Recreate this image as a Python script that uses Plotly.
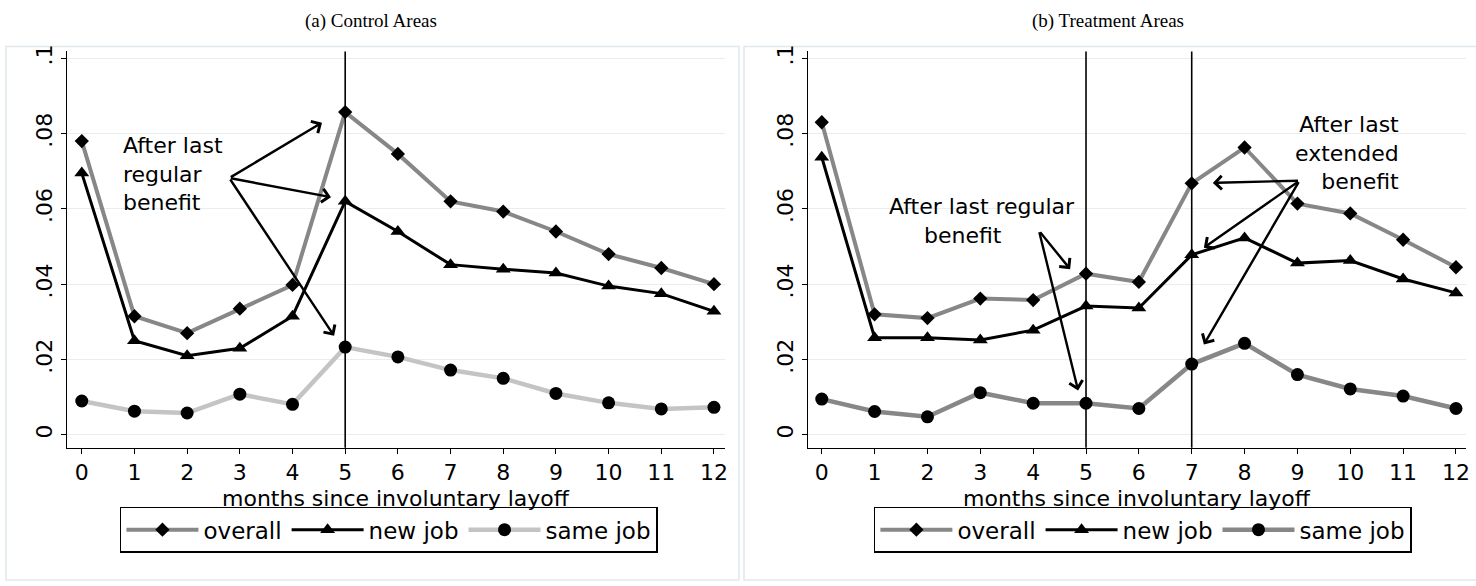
import plotly.graph_objects as go

# ---------------- data ----------------
months = list(range(13))
month_ticks = [str(m) for m in months]
y_tick_vals = [0, 0.02, 0.04, 0.06, 0.08, 0.1]
y_tick_text = ["0", ".02", ".04", ".06", ".08", ".1"]

series_names = ["overall", "new job", "same job"]

ctrl_overall = [0.078, 0.0315, 0.027, 0.0335, 0.0398, 0.0857, 0.0746, 0.062, 0.0593, 0.054, 0.048, 0.0443, 0.040]
ctrl_newjob = [0.0695, 0.025, 0.021, 0.023, 0.0315, 0.062, 0.054, 0.0452, 0.044, 0.043, 0.0395, 0.0375, 0.0328]
ctrl_samejob = [0.009, 0.0063, 0.0058, 0.0108, 0.0081, 0.0233, 0.0207, 0.0172, 0.015, 0.011, 0.0085, 0.0069, 0.0073]

treat_overall = [0.083, 0.032, 0.031, 0.0362, 0.0358, 0.0428, 0.0406, 0.0668, 0.0763, 0.0614, 0.0588, 0.0518, 0.0445]
treat_newjob = [0.0737, 0.0258, 0.0258, 0.0252, 0.0278, 0.0342, 0.0337, 0.0478, 0.0523, 0.0456, 0.0463, 0.0414, 0.0377]
treat_samejob = [0.0095, 0.0062, 0.0048, 0.0112, 0.0084, 0.0084, 0.007, 0.0188, 0.0243, 0.016, 0.0122, 0.0103, 0.007]

ctrl_benefit_lines = [5]
treat_benefit_lines = [5, 7]

title_ctrl = "(a) Control Areas"
title_treat = "(b) Treatment Areas"
x_title = "months since involuntary layoff"

note_ctrl = "After last<br>regular<br>benefit"
note_treat_regular = "After last regular<br>" + "&nbsp;" * 5 + "benefit"
note_treat_extended = "After last<br>extended<br>benefit"

# ---------------- styles ----------------
W, H = 1476, 586
FONT = "DejaVu Sans"
GRAY = "#878787"
LIGHT = "#c4c4c4"
GRID = "#e6eef0"
FRAME = "#dfe8ec"

def px_x(p):
    return p / W

def px_y(p):
    return (H - p) / H

y_range = [-0.0034, 0.1018]
x_range_left = [-0.284, 12.21]
x_range_right = [-0.264, 12.19]
y_dom = [px_y(446), px_y(45)]
x_dom_left = [px_x(67), px_x(727)]
x_dom_right = [px_x(810), px_x(1470)]

fig = go.Figure()

def add_panel(xa, ya, overall, newjob, samejob, same_color, legend_id):
    styles = [
        (overall, GRAY, 4, "diamond", 11),
        (newjob, "black", 3, "triangle-up", 13),
        (samejob, same_color, 4.5, "circle", 13),
    ]
    for name, (vals, col, lw, sym, ms) in zip(series_names, styles):
        fig.add_trace(go.Scatter(
            x=months, y=vals, mode="lines+markers", name=name,
            xaxis=xa, yaxis=ya, legend=legend_id,
            line=dict(color=col, width=lw),
            marker=dict(symbol=sym, size=ms, color="black", line=dict(width=0)),
        ))

add_panel("x", "y", ctrl_overall, ctrl_newjob, ctrl_samejob, LIGHT, "legend")
add_panel("x2", "y2", treat_overall, treat_newjob, treat_samejob, GRAY, "legend2")

axis_x = dict(tickmode="array", tickvals=months, ticktext=month_ticks,
              showline=True, linecolor="black", linewidth=1.3, ticks="outside",
              ticklen=5, tickwidth=1.3, tickcolor="black", showgrid=False, zeroline=False,
              tickfont=dict(family=FONT, size=22, color="black"))
axis_y = dict(range=y_range, domain=y_dom, tickmode="array", tickvals=y_tick_vals, ticktext=y_tick_text,
              tickangle=-90, showline=True, linecolor="black", linewidth=1.3, ticks="outside",
              ticklen=5, tickwidth=1.3, tickcolor="black", showgrid=True, gridcolor=GRID,
              gridwidth=1.2, zeroline=False,
              tickfont=dict(family=FONT, size=22, color="black"))

legend_common = dict(orientation="h", xanchor="center", yanchor="middle",
                     bordercolor="black", borderwidth=1.5, bgcolor="white", itemwidth=72,
                     font=dict(family=FONT, size=23, color="black"))

fig.update_layout(
    width=W, height=H, margin=dict(l=0, r=0, t=0, b=0),
    paper_bgcolor="white", plot_bgcolor="white",
    xaxis=dict(axis_x, range=x_range_left, domain=x_dom_left, anchor="y"),
    yaxis=dict(axis_y, anchor="x"),
    xaxis2=dict(axis_x, range=x_range_right, domain=x_dom_right, anchor="y2"),
    yaxis2=dict(axis_y, anchor="x2"),
    legend=dict(legend_common, x=px_x(390), y=px_y(529)),
    legend2=dict(legend_common, x=px_x(1146), y=px_y(529)),
)

# panel frames
fig.add_shape(type="rect", xref="paper", yref="paper", x0=px_x(6), x1=px_x(741),
              y0=px_y(580), y1=px_y(40), line=dict(color=FRAME, width=1.5), layer="below")
fig.add_shape(type="rect", xref="paper", yref="paper", x0=px_x(746), x1=px_x(1490),
              y0=px_y(580), y1=px_y(40), line=dict(color=FRAME, width=1.5), layer="below")

# vertical benefit lines
for v in ctrl_benefit_lines:
    fig.add_shape(type="line", xref="x", yref="y domain", x0=v, x1=v, y0=0, y1=1,
                  line=dict(color="black", width=1.6))
for v in treat_benefit_lines:
    fig.add_shape(type="line", xref="x2", yref="y2 domain", x0=v, x1=v, y0=0, y1=1,
                  line=dict(color="black", width=1.6))

# titles
TFONT = dict(family="Liberation Serif", size=19, color="black")
fig.add_annotation(text=title_ctrl, xref="paper", yref="paper", x=px_x(372), y=px_y(14),
                   xanchor="center", yanchor="middle", showarrow=False, font=TFONT)
fig.add_annotation(text=title_treat, xref="paper", yref="paper", x=px_x(1111), y=px_y(14),
                   xanchor="center", yanchor="middle", showarrow=False, font=TFONT)

# x-axis titles
XFONT = dict(family=FONT, size=22, color="black")
for xc in (397, 1140):
    fig.add_annotation(text=x_title, xref="paper", yref="paper", x=px_x(xc), y=px_y(497),
                       xanchor="center", yanchor="middle", showarrow=False, font=XFONT)

AFONT = dict(family=FONT, size=22, color="black")

# left panel annotation
fig.add_annotation(text=note_ctrl, xref="x", yref="y", x=0.74, y=0.0692, xanchor="left",
                   yanchor="middle", align="left", showarrow=False, font=AFONT)
for tx, ty in [(4.56, 0.0829), (4.73, 0.0631), (4.79, 0.0263)]:
    fig.add_annotation(text="", xref="x", yref="y", axref="x", ayref="y",
                       x=tx, y=ty, ax=2.8, ay=0.0682, showarrow=True,
                       arrowhead=4, arrowsize=1.1, arrowwidth=2.4, arrowcolor="black")

# right panel annotations
fig.add_annotation(text=note_treat_regular, xref="x2", yref="y2", x=1.24, y=0.0569,
                   xanchor="left", yanchor="middle", align="left", showarrow=False, font=AFONT)
for tx, ty in [(4.70, 0.0440), (4.85, 0.0118)]:
    fig.add_annotation(text="", xref="x2", yref="y2", axref="x2", ayref="y2",
                       x=tx, y=ty, ax=4.11, ay=0.0542, showarrow=True,
                       arrowhead=4, arrowsize=1.1, arrowwidth=2.4, arrowcolor="black")

fig.add_annotation(text=note_treat_extended, xref="x2", yref="y2", x=10.96, y=0.0749,
                   xanchor="right", yanchor="middle", align="right", showarrow=False, font=AFONT)
for tx, ty in [(7.40, 0.0669), (7.23, 0.0497), (7.23, 0.024)]:
    fig.add_annotation(text="", xref="x2", yref="y2", axref="x2", ayref="y2",
                       x=tx, y=ty, ax=9.04, ay=0.0675, showarrow=True,
                       arrowhead=4, arrowsize=1.1, arrowwidth=2.4, arrowcolor="black")

fig.write_html("out.html", config={"displayModeBar": False},
               post_script="document.body.style.margin='0px';document.body.style.overflow='hidden';")
